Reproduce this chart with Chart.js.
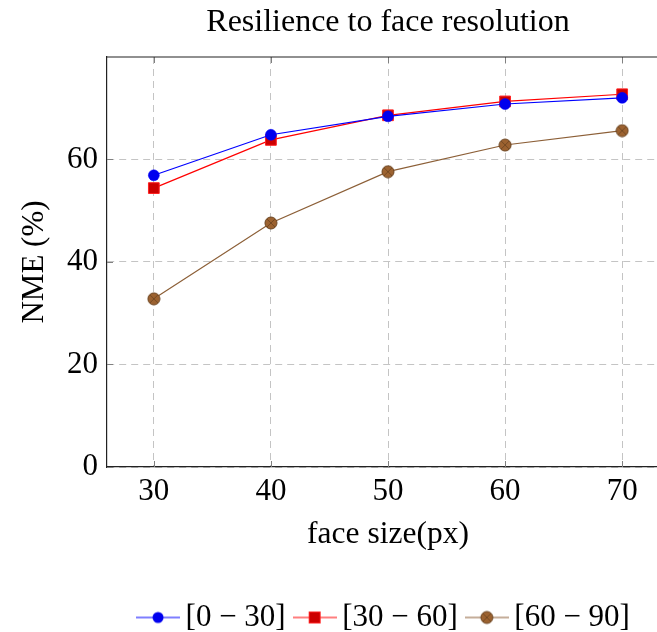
<!DOCTYPE html>
<html>
<head>
<meta charset="utf-8">
<script src="https://cdn.jsdelivr.net/npm/chart.js@4/dist/chart.umd.min.js"></script>
<style>
  html, body { margin: 0; padding: 0; background: #fff; overflow: hidden; }
  canvas { display: block; }
</style>
</head>
<body>
<canvas id="chart" width="669" height="632" style="width:669px;height:632px"></canvas>
<script>
// Face size in pixels along the x axis
const faceSizes = [30, 40, 50, 60, 70];
// NME (%) for each head-pose range
const nme0to30 = [56.9, 64.8, 68.4, 70.8, 72.0];
const nme30to60 = [54.4, 63.8, 68.6, 71.3, 72.7];
const nme60to90 = [32.8, 47.6, 57.6, 62.8, 65.6];
const seriesLabels = ['[0 \u2212 30]', '[30 \u2212 60]', '[60 \u2212 90]'];
const xTicks = [30, 40, 50, 60, 70];
const yTicks = [0, 20, 40, 60];

const FONT = "'Liberation Serif', 'Times New Roman', serif";
const BROWN_LINE = '#8c5f37';
const BROWN_FILL = '#9c6230';
const BROWN_EDGE = '#6a431f';

// circle-with-cross marker for the brown series
function crossCircle() {
  const c = document.createElement('canvas');
  c.width = 14; c.height = 14;
  const g = c.getContext('2d');
  g.beginPath(); g.arc(7, 7, 6, 0, Math.PI * 2);
  g.fillStyle = BROWN_FILL; g.fill();
  g.lineWidth = 1; g.strokeStyle = BROWN_EDGE; g.stroke();
  g.beginPath();
  g.moveTo(3, 3); g.lineTo(11, 11); g.moveTo(11, 3); g.lineTo(3, 11);
  g.lineWidth = 0.8; g.strokeStyle = BROWN_EDGE; g.stroke();
  return c;
}
const brownMarker = crossCircle();

// legend sample: a short line with the series marker in its middle
function legendIcon(color, drawMarker) {
  const c = document.createElement('canvas');
  c.width = 44; c.height = 16;
  const g = c.getContext('2d');
  g.beginPath(); g.moveTo(0, 8); g.lineTo(44, 8);
  g.lineWidth = 1.2; g.strokeStyle = color; g.stroke();
  drawMarker(g, 22, 8);
  return c;
}
const legendIcons = [
  legendIcon('#0000ff', (g, x, y) => {
    g.beginPath(); g.arc(x, y, 5.5, 0, Math.PI * 2);
    g.fillStyle = '#0000ee'; g.fill();
  }),
  legendIcon('#ff0000', (g, x, y) => {
    g.fillStyle = '#cc0000'; g.fillRect(x - 5.5, y - 5.5, 11, 11);
    g.lineWidth = 1; g.strokeStyle = '#ff2020'; g.strokeRect(x - 5.5, y - 5.5, 11, 11);
  }),
  legendIcon(BROWN_LINE, (g, x, y) => { g.drawImage(brownMarker, x - 7, y - 7); })
];

const toPoints = ys => faceSizes.map((x, i) => ({ x, y: ys[i] }));

// top frame line and inward tick marks
const frameAndTicks = {
  id: 'frameAndTicks',
  afterDatasetsDraw(chart) {
    const { ctx, chartArea: a, scales: { x, y } } = chart;
    ctx.save();
    ctx.strokeStyle = '#808080';
    ctx.lineWidth = 1;
    ctx.beginPath();
    xTicks.forEach(v => {
      const px = Math.round(x.getPixelForValue(v)) + 0.5;
      ctx.moveTo(px, a.bottom); ctx.lineTo(px, a.bottom - 6);
      ctx.moveTo(px, a.top); ctx.lineTo(px, a.top + 6);
    });
    yTicks.forEach(v => {
      const py = Math.round(y.getPixelForValue(v)) + 0.5;
      ctx.moveTo(a.left, py); ctx.lineTo(a.left + 6, py);
    });
    ctx.stroke();
    ctx.strokeStyle = '#222';
    ctx.lineWidth = 1.2;
    ctx.beginPath();
    ctx.moveTo(a.left, a.top); ctx.lineTo(a.right + 2, a.top);
    ctx.stroke();
    ctx.restore();
  }
};

new Chart(document.getElementById('chart'), {
  type: 'line',
  data: {
    datasets: [
      {
        label: seriesLabels[0],
        data: toPoints(nme0to30),
        borderColor: '#0000ff',
        backgroundColor: '#0000ee',
        pointBackgroundColor: '#0000ee',
        pointBorderColor: '#0000ff',
        pointStyle: 'circle',
        pointRadius: 5.5,
        pointBorderWidth: 0.5,
        borderWidth: 1.2
      },
      {
        label: seriesLabels[1],
        data: toPoints(nme30to60),
        borderColor: '#ff0000',
        backgroundColor: '#cc0000',
        pointBackgroundColor: '#cc0000',
        pointBorderColor: '#ff2020',
        pointStyle: 'rect',
        pointRadius: 7.6,
        pointBorderWidth: 1,
        borderWidth: 1.2
      },
      {
        label: seriesLabels[2],
        data: toPoints(nme60to90),
        borderColor: BROWN_LINE,
        backgroundColor: BROWN_FILL,
        pointStyle: brownMarker,
        pointRadius: 6,
        borderWidth: 1.2
      }
    ]
  },
  options: {
    responsive: false,
    animation: false,
    devicePixelRatio: 1,
    layout: { autoPadding: false, padding: { top: 0, left: 0, right: 0, bottom: -11 } },
    elements: { line: { tension: 0, fill: false } },
    scales: {
      x: {
        type: 'linear',
        min: 26,
        max: 74,
        afterBuildTicks: s => { s.ticks = xTicks.map(v => ({ value: v })); },
        afterFit: s => { s.height = 118; s.paddingLeft = 0; s.paddingRight = 0; },
        grid: { color: '#c4c4c4', lineWidth: 1, drawTicks: false },
        border: { display: true, color: '#222', width: 1.2, dash: [7, 5] },
        ticks: {
          padding: 6.4,
          color: '#000',
          font: { family: FONT, size: 31 },
          maxRotation: 0,
          callback: v => String(v)
        },
        title: {
          display: true,
          text: 'face size(px)',
          color: '#000',
          font: { family: FONT, size: 31.5 },
          padding: { top: 0, bottom: 31.1 }
        }
      },
      y: {
        type: 'linear',
        min: 0,
        max: 79.97,
        afterBuildTicks: s => { s.ticks = yTicks.map(v => ({ value: v })); },
        afterFit: s => { s.width = 107; s.paddingTop = 0; s.paddingBottom = 0; },
        grid: { color: '#c4c4c4', lineWidth: 1, drawTicks: false },
        border: { display: true, color: '#222', width: 1.2, dash: [7, 5] },
        ticks: {
          padding: 9,
          color: '#000',
          font: { family: FONT, size: 31 },
          callback: v => String(v)
        },
        title: {
          display: true,
          text: 'NME (%)',
          color: '#000',
          font: { family: FONT, size: 31 },
          padding: { top: 16.4, bottom: 0 }
        }
      }
    },
    plugins: {
      title: {
        display: true,
        fullSize: false,
        text: 'Resilience to face resolution',
        color: '#000',
        font: { family: FONT, size: 32, weight: 'normal' },
        padding: { top: 3.8, bottom: 14.8 }
      },
      legend: {
        display: true,
        position: 'bottom',
        fullSize: false,
        labels: {
          usePointStyle: true,
          pointStyleWidth: 24,
          padding: 17,
          color: '#000',
          font: { family: FONT, size: 31 },
          generateLabels: chart =>
            Chart.defaults.plugins.legend.labels.generateLabels(chart)
              .map((item, i) => Object.assign(item, { pointStyle: legendIcons[i] }))
        }
      },
      tooltip: { enabled: false }
    }
  },
  plugins: [frameAndTicks]
});
</script>
</body>
</html>
